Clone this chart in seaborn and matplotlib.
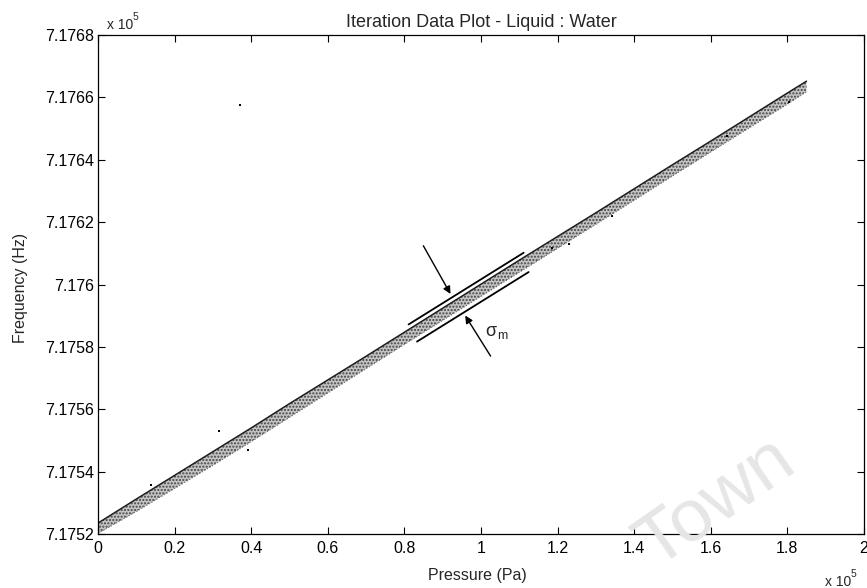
import numpy as np
import matplotlib
matplotlib.use('Agg')
import matplotlib.pyplot as plt
from matplotlib.ticker import FuncFormatter
import seaborn as sns

# band of iteration points (Pa, Hz)
pressure = [0, 10000, 20000, 30000, 40000, 50000, 60000, 70000, 80000, 90000,
            100000, 110000, 120000, 130000, 140000, 150000, 160000, 170000,
            180000, 185000]
freq_upper = [717523.5, 717531.2, 717538.8, 717546.4, 717554.0, 717561.8,
              717569.4, 717577.0, 717584.7, 717592.4, 717600.1, 717607.8,
              717615.4, 717623.0, 717630.7, 717638.4, 717646.0, 717653.7,
              717661.4, 717665.2]
freq_lower = [717520.2, 717527.2, 717534.6, 717542.0, 717549.6, 717557.4,
              717565.2, 717573.0, 717580.8, 717588.5, 717596.2, 717603.9,
              717611.6, 717619.3, 717627.0, 717634.8, 717642.5, 717650.2,
              717657.8, 717661.8]

# loose points away from the band
stray_pressure = [13800, 31500, 39300, 37100, 118500, 122900, 134200, 164200, 180300]
stray_freq = [717535.7, 717553.0, 717546.9, 717657.5, 717611.6, 717612.9,
              717622.0, 717647.6, 717658.6]

sns.set_style('ticks')
plt.rcParams['font.family'] = ['Liberation Sans', 'DejaVu Sans']

fig = plt.figure(figsize=(8.67, 5.88), dpi=100)
ax = fig.add_axes([0.113, 0.0918, 0.8835, 0.8486])

x = np.array(pressure) / 1e5
up = np.array(freq_upper) / 1e5
lo = np.array(freq_lower) / 1e5

ax.fill_between(x, lo, up, facecolor='#c4c4c4', edgecolor='#444444',
                hatch='.....', linewidth=0)
sns.lineplot(x=x, y=up, color='#1e1e1e', lw=1.1, ax=ax)
sns.lineplot(x=x, y=lo, color='#6a6a6a', lw=0.8, linestyle=':', ax=ax)
sns.scatterplot(x=np.array(stray_pressure) / 1e5, y=np.array(stray_freq) / 1e5,
                color='black', s=4, marker='s', linewidth=0, ax=ax)

# sigma_m annotation
ax.plot([0.811, 1.1115], [7.175872, 7.176102], color='black', lw=1.3)
ax.plot([0.833, 1.1245], [7.175817, 7.176040], color='black', lw=1.3)
arrow = dict(arrowstyle='-|>', color='black', lw=1.0, mutation_scale=11)
ax.annotate('', xy=(0.924, 7.175962), xytext=(0.846, 7.176132), arrowprops=arrow)
ax.annotate('', xy=(0.955, 7.175908), xytext=(1.029, 7.175763), arrowprops=arrow)
ax.text(1.012, 7.175850, 'σ', fontsize=13, va='center', ha='left')
ax.text(1.042, 7.175834, 'm', fontsize=9, va='center', ha='left')

ax.set_xlim(0, 2)
ax.set_ylim(7.1752, 7.1768)
ax.set_xticks(np.arange(0, 2.01, 0.2))
ax.set_yticks(np.arange(7.1752, 7.17681, 0.0002))
ax.xaxis.set_major_formatter(FuncFormatter(lambda v, p: f'{v:g}' if abs(v) > 1e-9 else '0'))
ax.yaxis.set_major_formatter(FuncFormatter(lambda v, p: f'{v:.4f}'.rstrip('0')))
ax.tick_params(direction='in', top=True, right=True, length=5, width=0.8,
               labelsize=11.5, colors='black')
ax.tick_params(axis='x', pad=5)
ax.tick_params(axis='y', pad=3)
for s in ax.spines.values():
    s.set_color('black')
    s.set_linewidth(0.9)

ax.set_title('Iteration Data Plot - Liquid : Water', fontsize=13, pad=6)
ax.set_xlabel('Pressure (Pa)', fontsize=11.5)
ax.set_ylabel('Frequency (Hz)', fontsize=11.5)
ax.xaxis.set_label_coords(0.495, -0.068)
ax.yaxis.set_label_coords(-0.091, 0.493)

# MATLAB-style exponent labels
fig.text(107 / 867, 1 - 29 / 588, 'x 10', fontsize=10, va='baseline')
fig.text(133 / 867, 1 - 20 / 588, '5', fontsize=7.5, va='baseline')
fig.text(825 / 867, 1 - 586 / 588, 'x 10', fontsize=10, va='baseline')
fig.text(851 / 867, 1 - 577 / 588, '5', fontsize=7.5, va='baseline')

# faint scan watermark
fig.text(0.825, 0.145, 'Town', rotation=35, color='#e6e6e6', fontsize=54,
         ha='center', va='center', zorder=10)

fig.savefig('out.png', dpi=100)
